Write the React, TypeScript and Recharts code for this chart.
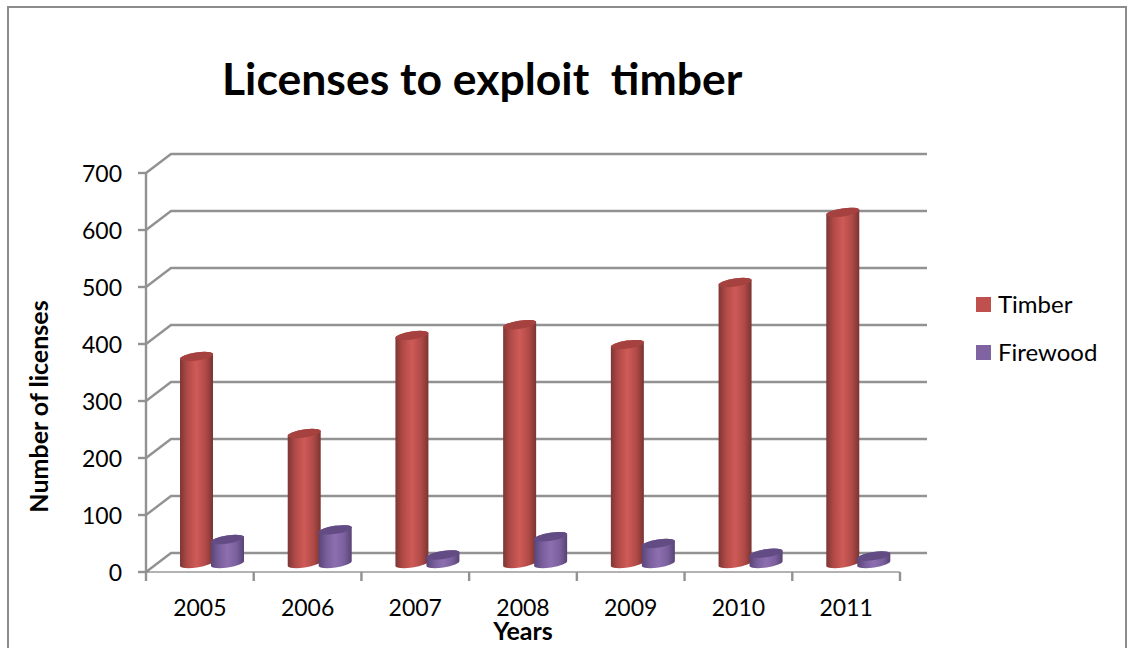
import React from "react";
import { Bar, BarChart, CartesianGrid, Legend, XAxis, YAxis } from "recharts";

const years = ["2005", "2006", "2007", "2008", "2009", "2010", "2011"];
const timber = [363, 228, 400, 419, 384, 493, 616];
const firewood = [42, 59, 15, 47, 35, 18, 13];
const yTicks = [0, 100, 200, 300, 400, 500, 600, 700];

const rows = years.map((year, i) => ({ year, Timber: timber[i], Firewood: firewood[i] }));

const FONT = "Lato, 'Noto Sans', sans-serif";
const AXIS_GREY = "#929292";
const LINE_WIDTH = 2.4;
const WALL_DX = 25;
const WALL_DY = -19;
const PLOT_LEFT = 146;
const PLOT_RIGHT = 900;
const PLOT_TOP = 173;
const PLOT_BOTTOM = 572;
const BAND = (PLOT_RIGHT - PLOT_LEFT) / years.length;

// Receding gridline: a diagonal from the value axis, then along the back wall.
const WallLine = (p: any) => (
  <polyline
    key={p.key ?? p.index}
    points={`${p.x1},${p.y1} ${p.x1 + WALL_DX},${p.y1 + WALL_DY} ${p.x2 + WALL_DX + 2},${p.y1 + WALL_DY}`}
    fill="none"
    stroke={AXIS_GREY}
    strokeWidth={LINE_WIDTH}
  />
);

// Floor edge on the right-hand side of the plot.
const FloorEdge = (p: any) => (
  <g>
    <line x1={p.x} x2={p.x + p.width} y1={p.y} y2={p.y} stroke={AXIS_GREY} strokeWidth={LINE_WIDTH} />
    <line x1={p.x + p.width} x2={p.x + p.width + WALL_DX} y1={p.y} y2={p.y + WALL_DY} stroke={AXIS_GREY} strokeWidth={LINE_WIDTH} />
  </g>
);

// Cylinder drawn from the bar rectangle, pushed partway into the chart's depth.
const cylinder = (bodyId: string, capColor: string) => (p: any) => {
  const shiftX = WALL_DX / 2 - 0.5;
  const shiftY = -8.5;
  const left = p.x + shiftX;
  const right = left + p.width;
  const top = p.y + shiftY;
  const bottom = p.y + p.height + shiftY;
  const rx = p.width / 2;
  const ry = 4;
  const tilt = 2.5;
  const angle = (-Math.atan2(tilt, rx) * 180) / Math.PI;
  const arc = `${rx} ${ry} ${angle}`;
  const body = `M${left},${top + tilt} L${left},${bottom + tilt} A${arc} 0 0 ${right},${bottom - tilt} L${right},${top - tilt} A${arc} 0 0 ${left},${top + tilt} Z`;
  const cap = `M${left},${top + tilt} A${arc} 0 0 ${right},${top - tilt} A${arc} 0 0 ${left},${top + tilt} Z`;
  return (
    <g>
      <path d={body} fill={`url(#${bodyId})`} />
      <path d={cap} fill={capColor} />
    </g>
  );
};

const ValueTick = (p: any) => (
  <g>
    <line x1={p.x} x2={p.x + 8} y1={p.y} y2={p.y} stroke={AXIS_GREY} strokeWidth={LINE_WIDTH} />
    <text x={p.x - 16} y={p.y + 9} textAnchor="end" fontFamily={FONT} fontSize={23} fill="#000">
      {p.payload.value}
    </text>
  </g>
);

const YearTick = (p: any) => {
  const edge = p.x - BAND / 2;
  return (
    <g>
      <line x1={edge} x2={edge} y1={PLOT_BOTTOM} y2={PLOT_BOTTOM + 9} stroke={AXIS_GREY} strokeWidth={LINE_WIDTH} />
      {p.index === years.length - 1 && (
        <line x1={edge + BAND} x2={edge + BAND} y1={PLOT_BOTTOM} y2={PLOT_BOTTOM + 9} stroke={AXIS_GREY} strokeWidth={LINE_WIDTH} />
      )}
      <text x={p.x} y={PLOT_BOTTOM + 44} textAnchor="middle" fontFamily={FONT} fontSize={23} fill="#000">
        {p.payload.value}
      </text>
    </g>
  );
};

const legendSwatch = (color: string, label: string, top: number) => (
  <div key={label} style={{ position: "absolute", left: 0, top, display: "flex", alignItems: "center", height: 24 }}>
    <span style={{ width: 15, height: 15, background: color, marginRight: 7 }} />
    <span style={{ fontFamily: FONT, fontSize: 24, lineHeight: "24px", color: "#000" }}>{label}</span>
  </div>
);

const LegendBody = () => (
  <div style={{ position: "relative", width: 140, height: 80 }}>
    {legendSwatch("#c0504d", "Timber", 0)}
    {legendSwatch("#8064a2", "Firewood", 48)}
  </div>
);

export default function App() {
  return (
    <div style={{ position: "absolute", left: 0, top: 0, width: 1133, height: 648, overflow: "hidden", background: "#fff" }}>
      <div
        style={{
          position: "absolute",
          left: 7,
          top: 6,
          width: 1120,
          height: 700,
          border: "2px solid #8c8c8c",
          boxSizing: "border-box",
        }}
      />
      <div
        style={{
          position: "absolute",
          left: 222,
          top: 50,
          fontFamily: FONT,
          fontWeight: 700,
          fontSize: 44.5,
          lineHeight: "56px",
          whiteSpace: "pre",
          color: "#000",
        }}
      >
        Licenses to exploit  timber
      </div>
      <BarChart
        width={1133}
        height={648}
        data={rows}
        margin={{ top: PLOT_TOP, right: 1133 - PLOT_RIGHT, bottom: 0, left: 0 }}
        barSize={33}
        barGap={-2}
        barCategoryGap={0}
        style={{ position: "absolute", left: 0, top: 0 }}
      >
        <defs>
          <linearGradient id="timberBody" x1="0" x2="1" y1="0" y2="0">
            <stop offset="0" stopColor="#7d3634" />
            <stop offset="0.22" stopColor="#b04a47" />
            <stop offset="0.5" stopColor="#cf5a57" />
            <stop offset="0.78" stopColor="#b04a47" />
            <stop offset="1" stopColor="#7a3432" />
          </linearGradient>
          <linearGradient id="firewoodBody" x1="0" x2="1" y1="0" y2="0">
            <stop offset="0" stopColor="#5a4578" />
            <stop offset="0.25" stopColor="#7a5f9d" />
            <stop offset="0.5" stopColor="#8d6fb0" />
            <stop offset="0.78" stopColor="#7a5f9d" />
            <stop offset="1" stopColor="#574374" />
          </linearGradient>
        </defs>
        <CartesianGrid vertical={false} horizontal={WallLine} />
        <XAxis
          dataKey="year"
          height={648 - PLOT_BOTTOM}
          axisLine={FloorEdge}
          tickLine={false}
          tick={YearTick}
          interval={0}
          label={{
            value: "Years",
            position: "insideBottom",
            offset: 8,
            style: { fontFamily: FONT, fontWeight: 700, fontSize: 25, fill: "#000" },
          }}
        />
        <YAxis
          domain={[0, 700]}
          ticks={yTicks}
          width={PLOT_LEFT}
          interval={0}
          axisLine={{ stroke: AXIS_GREY, strokeWidth: LINE_WIDTH }}
          tickLine={false}
          tick={ValueTick}
          label={{
            value: "Number of licenses",
            angle: -90,
            position: "insideLeft",
            offset: 39,
            dy: 34,
            style: { textAnchor: "middle", fontFamily: FONT, fontWeight: 700, fontSize: 25, fill: "#000" },
          }}
        />
        <Legend
          layout="vertical"
          align="center"
          verticalAlign="middle"
          content={LegendBody}
          wrapperStyle={{ position: "absolute", left: 976, top: 292, width: 140, height: 80 }}
        />
        <Bar dataKey="Timber" fill="#c0504d" isAnimationActive={false} shape={cylinder("timberBody", "#a5423f")} />
        <Bar dataKey="Firewood" fill="#8064a2" isAnimationActive={false} shape={cylinder("firewoodBody", "#634c84")} />
      </BarChart>
    </div>
  );
}
